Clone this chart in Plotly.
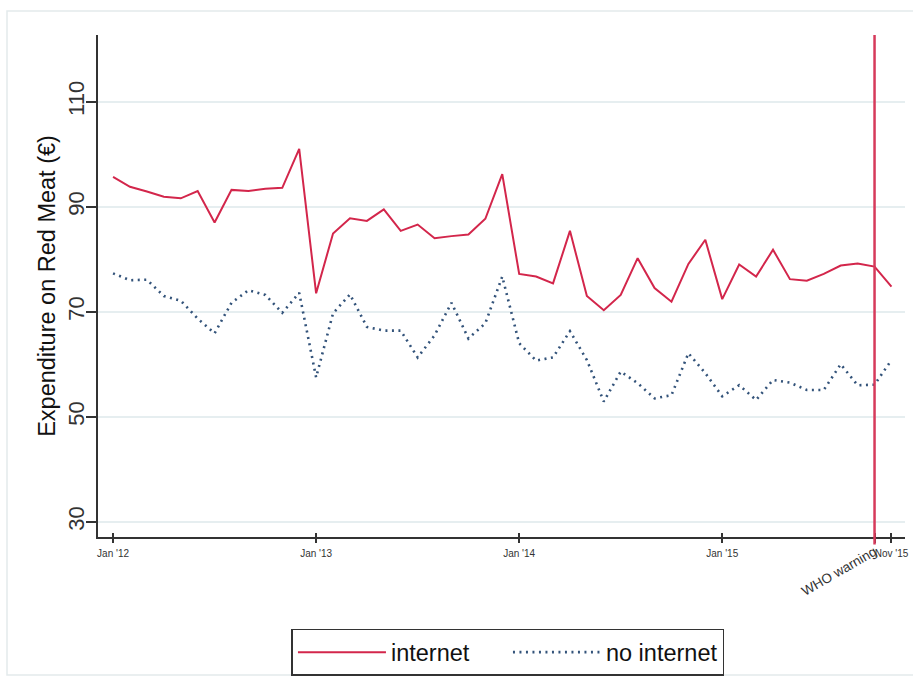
import plotly.graph_objects as go

# Monthly observations, Jan 2012 - Nov 2015
months = [f"{y}-{m:02d}" for y in range(2012, 2016) for m in range(1, 13)][:47]

internet = [95.7, 93.8, 92.9, 91.9, 91.6, 93.0, 87.0, 93.2, 93.0, 93.4, 93.6, 101.0,
            73.5, 84.9, 87.8, 87.3, 89.5, 85.4, 86.6, 84.0, 84.4, 84.7, 87.7, 96.2,
            77.2, 76.7, 75.4, 85.4, 73.0, 70.3, 73.2, 80.2, 74.5, 71.9, 79.1, 83.7,
            72.4, 79.0, 76.7, 81.8, 76.2, 75.9, 77.2, 78.8, 79.2, 78.6, 74.8]

no_internet = [77.3, 76.0, 76.1, 73.0, 72.1, 68.7, 65.9, 71.7, 74.1, 73.2, 69.8, 73.6,
               57.5, 69.7, 73.3, 67.1, 66.4, 66.4, 61.3, 65.5, 71.7, 64.9, 67.8, 76.7,
               64.0, 60.7, 61.3, 66.3, 60.8, 52.9, 58.6, 56.4, 53.5, 54.1, 62.1, 58.3,
               53.9, 56.0, 53.2, 57.0, 56.5, 55.1, 55.1, 60.0, 56.0, 56.1, 60.8]

tick_months = ["2012-01", "2013-01", "2014-01", "2015-01", "2015-10", "2015-11"]
tick_labels = ["Jan '12", "Jan '13", "Jan '14", "Jan '15", "", "Nov '15"]
warning_month = "2015-10"
warning_label = "WHO warning"

y_ticks = [30, 50, 70, 90, 110]

x_pos = list(range(len(months)))
tick_pos = [months.index(m) for m in tick_months]
warn_pos = months.index(warning_month)

RED = "#d3264b"
NAVY = "#33537a"
AXIS = "#333333"
GRID = "#e6eef0"
FONT = "Liberation Sans, Arial, sans-serif"

fig = go.Figure()
fig.add_trace(go.Scatter(x=x_pos, y=internet, mode="lines", name="internet",
                         line=dict(color=RED, width=2)))
fig.add_trace(go.Scatter(x=x_pos, y=no_internet, mode="lines", name="no internet",
                         line=dict(color=NAVY, width=2.6, dash="2px,4.5px")))

# WHO warning marker
fig.add_shape(type="line", xref="x", yref="paper", x0=warn_pos, x1=warn_pos,
              y0=-0.015, y1=1, line=dict(color="#d63a5b", width=2.5))
fig.add_annotation(x=warn_pos, y=-0.008, xref="x", yref="paper", text=warning_label,
                   showarrow=False, textangle=-30, xanchor="right", yanchor="top",
                   xshift=7, font=dict(family=FONT, size=13.5, color=AXIS))

# light frame around the graph region
fig.add_shape(type="rect", xref="paper", yref="paper",
              x0=(7 - 98) / 807, x1=(918 - 98) / 807,
              y0=(537 - 675) / 502, y1=(537 - 11) / 502,
              line=dict(color="#e3eaec", width=1.5), fillcolor="rgba(0,0,0,0)", layer="below")

x_range = [-0.89, 46.8]

fig.update_layout(
    width=913, height=676,
    margin=dict(l=98, r=8, t=35, b=139, autoexpand=False),
    paper_bgcolor="white", plot_bgcolor="white",
    font=dict(family=FONT, color=AXIS),
    showlegend=True,
    legend=dict(orientation="h", x=0.508, xanchor="center", y=-0.183, yanchor="top",
                font=dict(family=FONT, size=23.5, color="#111111"),
                bordercolor=AXIS, borderwidth=1.5, bgcolor="white",
                itemwidth=88, entrywidth=112),
    xaxis=dict(range=x_range, tickmode="array", tickvals=tick_pos, ticktext=tick_labels,
               tickangle=0, ticks="outside", ticklen=4, tickwidth=1.5, tickcolor=AXIS,
               showline=True, linecolor=AXIS, linewidth=1.5, showgrid=False, zeroline=False,
               tickfont=dict(family=FONT, size=10, color=AXIS), ticklabelstandoff=2,
               automargin=False),
    xaxis2=dict(range=x_range, overlaying="x", tickmode="array", tickvals=tick_pos,
                ticks="inside", ticklen=4, tickwidth=1.5, tickcolor=AXIS, side="bottom",
                showticklabels=False, showline=False, showgrid=False, zeroline=False),
    yaxis=dict(range=[27.1, 122.7], tickmode="array", tickvals=y_ticks, tickangle=-90,
               ticks="outside", ticklen=10, tickwidth=1.5, tickcolor=AXIS,
               showline=True, linecolor=AXIS, linewidth=1.5, zeroline=False,
               showgrid=True, gridcolor=GRID, gridwidth=1.5,
               tickfont=dict(family=FONT, size=22, color=AXIS), ticklabelstandoff=-7,
               title=dict(text="Expenditure on Red Meat (€)", standoff=2,
                          font=dict(family=FONT, size=23.5, color="#111111")),
               automargin=False),
)

# empty trace so the secondary x axis draws its inner tick marks
fig.add_trace(go.Scatter(x=[None], y=[None], xaxis="x2", showlegend=False, hoverinfo="skip"))

fig.write_html("out.html")
